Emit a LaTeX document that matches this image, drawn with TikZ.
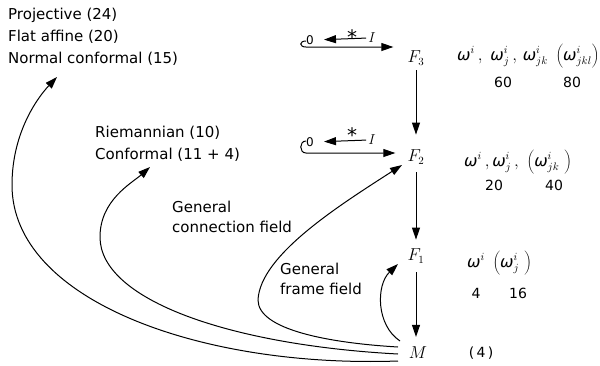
\documentclass[tikz,border=0pt]{standalone}
\usepackage{fontspec}
\setmainfont{DejaVu Sans}
\usetikzlibrary{arrows.meta}
\newcommand\omg{\mbox{\itshape ω}}
\begin{document}
\begin{tikzpicture}[x=1pt,y=-1pt,
  lbl/.style={font=\fontsize{15}{20}\selectfont, inner sep=0pt, anchor=west, align=left},
  mth/.style={font=\fontsize{16}{18}\selectfont, inner sep=1pt},
  omgrow/.style={font=\fontsize{16}{18}\selectfont, inner sep=0pt, anchor=base west},
  num/.style={font=\fontsize{14}{16}\selectfont, inner sep=0pt},
  star/.style={font=\fontsize{20}{20}\selectfont, inner sep=0pt},
  arr/.style={line width=1pt, -{Triangle[length=12pt,width=8pt]}},
]
\useasboundingbox (0,0) rectangle (600,365);

% left labels
\node[lbl] (proj) at (8,15) {Projective (24)};
\node[lbl] (flat) at (8,37) {Flat affine (20)};
\node[lbl] (normal) at (8,59) {Normal conformal (15)};
\node[lbl] (riem) at (95,133) {Riemannian (10)};
\node[lbl] (conf) at (95,155) {Conformal (11 + 4)};
\node[lbl] (gcf) at (172,217) {General\\connection field};
\node[lbl] (gff) at (280,279) {General\\frame field};

% bundle column
\node[mth] (F3) at (416,58) {$F_3$};
\node[mth] (F2) at (416,157) {$F_2$};
\node[mth] (F1) at (416,256) {$F_1$};
\node[mth] (M)  at (418,353) {$M$};

\draw[arr, shorten <=4pt, shorten >=14pt] (F3) -- (F2);
\draw[arr, shorten <=7pt, shorten >=8pt] (F2) -- (F1);
\draw[arr, shorten <=8pt, shorten >=9pt] (F1.south) -- (F1.south |- M.north);

% I and * maps, row F3
\node[num, font=\fontsize{12}{13}\selectfont] (z3) at (310,40) {0};
\node[mth, inner sep=0pt, font=\fontsize{15}{16}\selectfont] (i3) at (372,38) {$I$};
\node[star] (s3) at (352,37) {*};
\draw[arr, shorten <=2pt, shorten >=10pt] (i3.west) -- (z3.east);
\draw[arr, shorten >=13pt] (306,41) .. controls (299,41) and (299,47) .. (306,47) -- ([yshift=11pt]F3.west);

% row F2
\node[num, font=\fontsize{12}{13}\selectfont] (z2) at (310,142) {0};
\node[mth, inner sep=0pt, font=\fontsize{15}{16}\selectfont] (i2) at (372,140) {$I$};
\node[star] (s2) at (352,135) {*};
\draw[arr, shorten <=2pt, shorten >=10pt] (i2.west) -- (z2.east);
\draw[arr, shorten >=11pt] (306,141) .. controls (299,141) and (299,153) .. (306,153) -- ([yshift=4pt]F2.west);

% component counts
\node[omgrow] (om3) at (457,60) {$\omg^i\,,\ \omg^i_j\,,\,\omg^i_{jk}\ \left(\omg^i_{jkl}\right)$};
\node[num] (n60) at (503,82) {60};
\node[num] (n80) at (572,82) {80};
\node[omgrow] (om2) at (464,166) {$\omg^i\,,\omg^i_j\,,\ \left(\omg^i_{jk}\ \right)$};
\node[num] (n20) at (494,185) {20};
\node[num] (n40) at (554,185) {40};
\node[omgrow] (om1) at (467,267) {$\omg^i\ \left(\omg^i_j\ \right)$};
\node[num] (n4) at (476,293) {4};
\node[num] (n16) at (518,293) {16};
\node[num] (n4m) at (481,353) {(\,4\,)};

% ends of the curves
\coordinate (sF1) at (400,341);
\coordinate (sF2) at (398,347);
\coordinate (sC)  at (398,354);
\coordinate (sN)  at (398,361);
\coordinate (tF1) at (398,264);
\coordinate (tF2) at (402,165);
\coordinate (tC)  at (150,167);
\coordinate (tN)  at (57,77);

% curves from M
\draw[arr] (sF1) .. controls (376,325) and (376,285) .. (tF1);
\draw[arr] (sF2) .. controls (330,343) and (258,330) .. (258,300)
   .. controls (260,255) and (340,205) .. (tF2);
\draw[arr] (sC) .. controls (230,345) and (100,300) .. (100,237)
   .. controls (100,200) and (132,183) .. (tC);
\draw[arr] (sN) .. controls (200,368) and (12,300) .. (12,185)
   .. controls (12,130) and (40,95) .. (tN);
\end{tikzpicture}
\end{document}
